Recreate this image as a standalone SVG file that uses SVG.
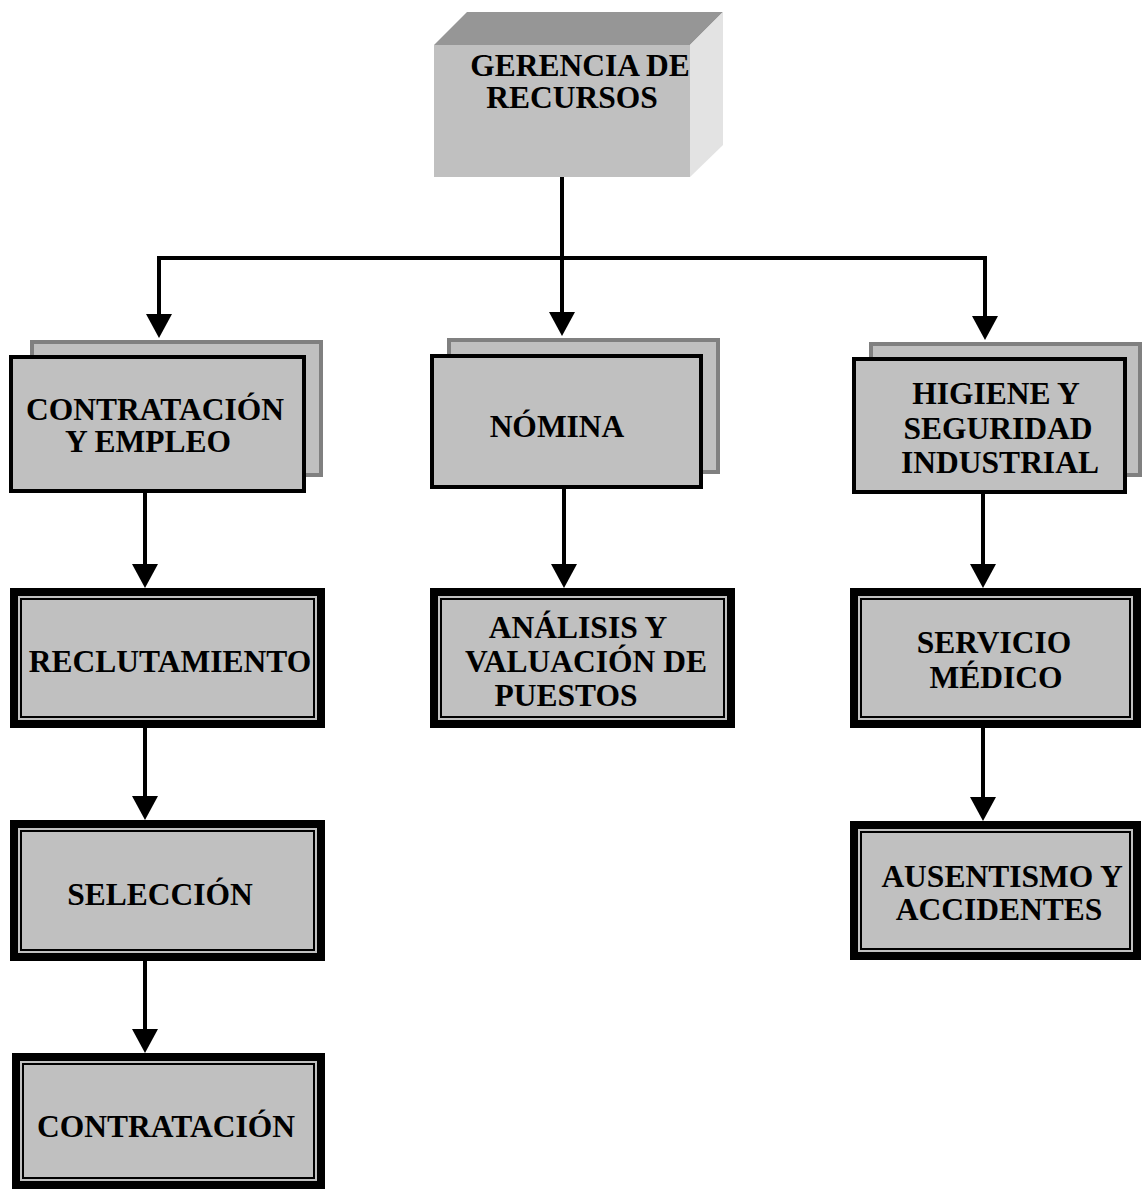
<svg xmlns="http://www.w3.org/2000/svg" width="1142" height="1190" viewBox="0 0 1142 1190">
  <style>
    .lbl { font-family: "Liberation Serif", "Times New Roman", serif; font-weight: bold; font-size: 31.5px; fill: #000; text-anchor: middle; }
    .face { fill: #c0c0c0; }
    .back { fill: #c0c0c0; stroke: #808080; stroke-width: 4; }
    .front { fill: #c0c0c0; stroke: #000; stroke-width: 4; }
    .thick { fill: #c0c0c0; stroke: #000; stroke-width: 8; }
    .thin { fill: none; stroke: #000; stroke-width: 2; }
    .wire { fill: none; stroke: #000; stroke-width: 4; stroke-linejoin: miter; }
  </style>
  <defs>
    <marker id="arrow" viewBox="0 0 24 26" refX="12" refY="13" markerWidth="24" markerHeight="26" markerUnits="userSpaceOnUse" orient="auto-start-reverse">
      <path d="M0,0 L24,13 L0,26 Z" fill="#000"/>
    </marker>
  </defs>
  <rect width="1142" height="1190" fill="#fff"/>

  <!-- connectors -->
  <g id="connectors">
    <line class="wire" x1="562" y1="177" x2="562" y2="258"/>
    <path class="wire" d="M159 326 V258 H985 V328" marker-start="url(#arrow)" marker-end="url(#arrow)"/>
    <line class="wire" x1="562" y1="258" x2="562" y2="324" marker-end="url(#arrow)"/>
    <line class="wire" x1="145" y1="493" x2="145" y2="576" marker-end="url(#arrow)"/>
    <line class="wire" x1="145" y1="728" x2="145" y2="808" marker-end="url(#arrow)"/>
    <line class="wire" x1="145" y1="961" x2="145" y2="1041" marker-end="url(#arrow)"/>
    <line class="wire" x1="564" y1="489" x2="564" y2="576" marker-end="url(#arrow)"/>
    <line class="wire" x1="983" y1="494" x2="983" y2="576" marker-end="url(#arrow)"/>
    <line class="wire" x1="983" y1="728" x2="983" y2="809" marker-end="url(#arrow)"/>
  </g>

  <!-- top node: 3D block -->
  <g id="gerencia">
    <polygon points="434,45 467,12 723,12 690,45" fill="#969696"/>
    <polygon points="690,45 723,12 723,145 690,177" fill="#e3e3e3"/>
    <rect class="face" x="434" y="45" width="256" height="132"/>
    <text class="lbl"><tspan x="580" y="76">GERENCIA DE</tspan><tspan x="572" y="108">RECURSOS</tspan></text>
  </g>

  <!-- second level: stacked boxes -->
  <g id="contratacion-empleo">
    <rect class="back" x="32" y="342" width="289" height="133"/>
    <rect class="front" x="11" y="357" width="293" height="134"/>
    <text class="lbl"><tspan x="155" y="420">CONTRATACIÓN</tspan><tspan x="148" y="452">Y EMPLEO</tspan></text>
  </g>
  <g id="nomina">
    <rect class="back" x="449" y="340" width="269" height="132"/>
    <rect class="front" x="432" y="356" width="269" height="131"/>
    <text class="lbl" x="557" y="437">NÓMINA</text>
  </g>
  <g id="higiene">
    <rect class="back" x="871" y="344" width="269" height="131"/>
    <rect class="front" x="854" y="359" width="271" height="133"/>
    <text class="lbl"><tspan x="996" y="404">HIGIENE Y</tspan><tspan x="998" y="439">SEGURIDAD</tspan><tspan x="1000" y="473">INDUSTRIAL</tspan></text>
  </g>

  <!-- lower levels: double-bordered boxes -->
  <g id="reclutamiento">
    <rect class="thick" x="14" y="592" width="307" height="132"/>
    <rect class="thin" x="21" y="599" width="293" height="118"/>
    <text class="lbl" x="170" y="672">RECLUTAMIENTO</text>
  </g>
  <g id="seleccion">
    <rect class="thick" x="14" y="824" width="307" height="133"/>
    <rect class="thin" x="21" y="831" width="293" height="119"/>
    <text class="lbl" x="160" y="905">SELECCIÓN</text>
  </g>
  <g id="contratacion">
    <rect class="thick" x="16" y="1057" width="305" height="128"/>
    <rect class="thin" x="23" y="1064" width="291" height="114"/>
    <text class="lbl" x="166" y="1137">CONTRATACIÓN</text>
  </g>
  <g id="analisis">
    <rect class="thick" x="434" y="592" width="297" height="132"/>
    <rect class="thin" x="441" y="599" width="283" height="118"/>
    <text class="lbl"><tspan x="578" y="638">ANÁLISIS Y</tspan><tspan x="586" y="672">VALUACIÓN DE</tspan><tspan x="566" y="706">PUESTOS</tspan></text>
  </g>
  <g id="servicio-medico">
    <rect class="thick" x="854" y="592" width="283" height="132"/>
    <rect class="thin" x="861" y="599" width="269" height="118"/>
    <text class="lbl"><tspan x="994" y="653">SERVICIO</tspan><tspan x="996" y="688">MÉDICO</tspan></text>
  </g>
  <g id="ausentismo">
    <rect class="thick" x="854" y="825" width="283" height="131"/>
    <rect class="thin" x="861" y="832" width="269" height="117"/>
    <text class="lbl"><tspan x="1002" y="887">AUSENTISMO Y</tspan><tspan x="999" y="920">ACCIDENTES</tspan></text>
  </g>
</svg>
